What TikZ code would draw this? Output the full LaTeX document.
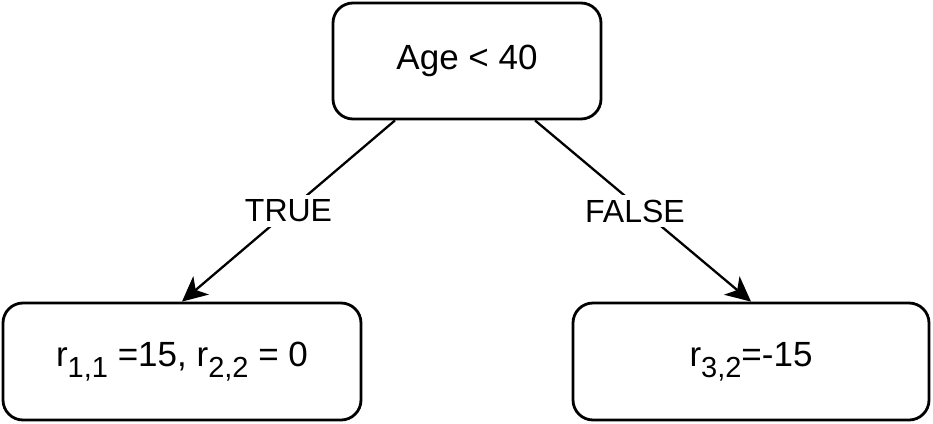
\documentclass[tikz,border=0pt]{standalone}
\usepackage{fontspec}
\setmainfont{Liberation Sans}
\usetikzlibrary{arrows.meta,positioning}
\newcommand{\lowidx}[1]{\raisebox{-11pt}{\fontsize{29}{30}\selectfont #1}}
\tikzset{%
	treebox/.style  = {draw, rectangle, rounded corners=20pt, line width=2.8pt, inner sep=0pt, font=\fontsize{35}{40}\selectfont},
	branch/.style   = {line width=2.3pt, -{Stealth[length=25pt,width=24pt,inset=7pt]}},
	branchlbl/.style= {fill=white, inner sep=5pt, font=\fontsize{32}{36}\selectfont},
}
\begin{document}
\begin{tikzpicture}[x=1pt,y=-1pt]
	\useasboundingbox (0,0) rectangle (933,423);
	\node [treebox,minimum width=268pt,minimum height=116pt] (root) at (467,61) {Age < 40};
	\node [treebox,minimum width=358pt,minimum height=117pt] (lft) at (182,361.5) {r\lowidx{1,1} =15, r\lowidx{2,2} = 0};
	\node [treebox,minimum width=356pt,minimum height=117pt] (rgt) at (751,361.5) {r\lowidx{3,2}=-15};
	
	\draw[branch] ([xshift=-72pt]root.south) -- node[branchlbl] {TRUE} (lft.north);
	\draw[branch] ([xshift=68pt]root.south) -- node[branchlbl,xshift=-8pt] {FALSE} (rgt.north);
\end{tikzpicture}
\end{document}
